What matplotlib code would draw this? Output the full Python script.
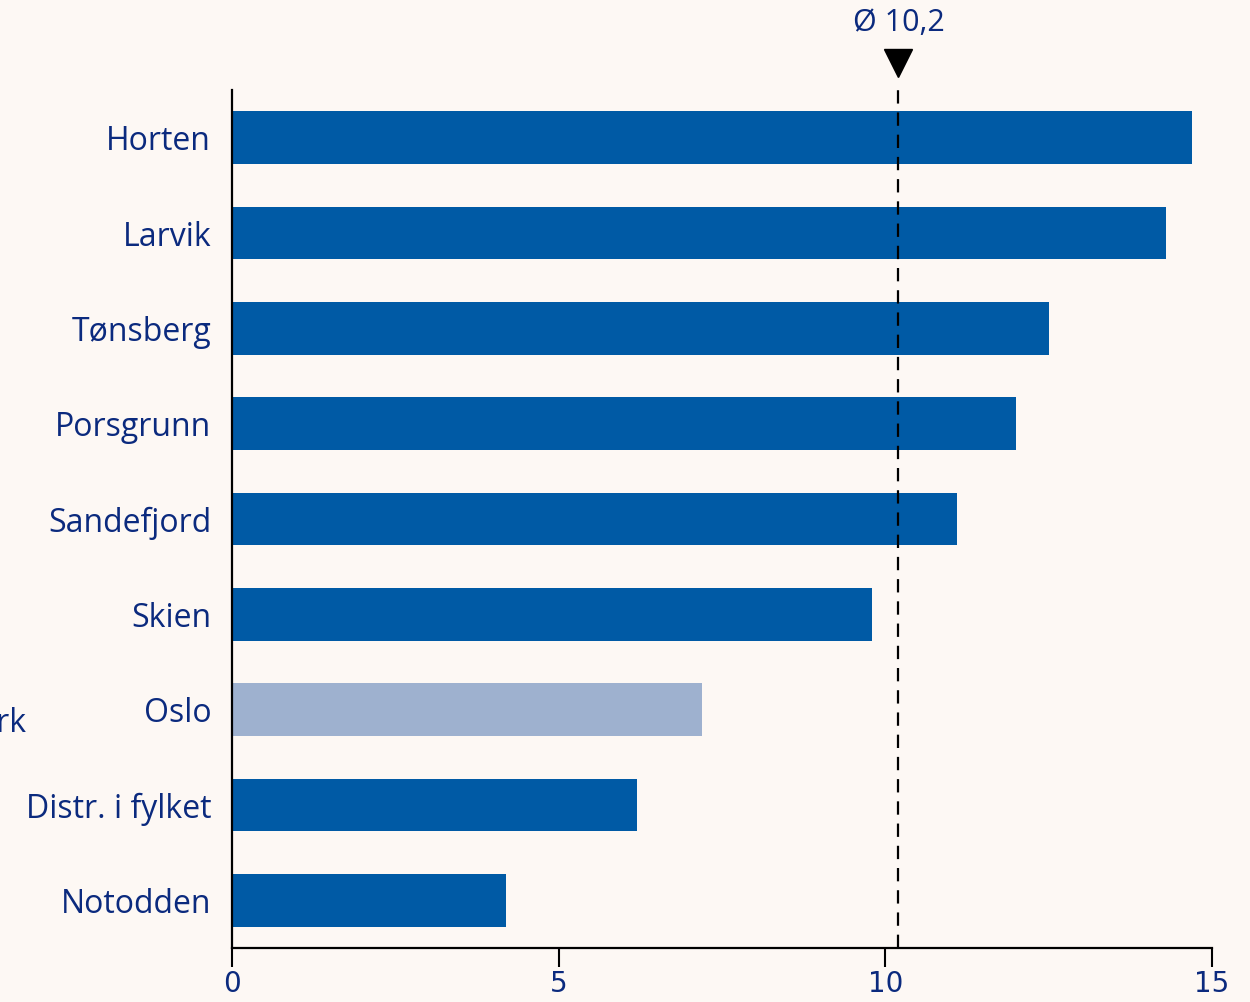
import matplotlib.pyplot as plt
import numpy as np

categories = ['Horten', 'Larvik', 'Tønsberg', 'Porsgrunn', 'Sandefjord',
              'Skien', 'Oslo', 'Distr. i fylket', 'Notodden']
values = [14.7, 14.3, 12.5, 12.0, 11.1, 9.8, 7.2, 6.2, 4.2]
highlight = 'Oslo'
mean_value = 10.2
x_ticks = [0, 5, 10, 15]

BG = '#fdf8f4'
NAVY = '#0b2a7e'
BAR = '#005aa5'
BAR_LIGHT = '#9eb1cf'
LABEL_FONT = ['Open Sans', 'DejaVu Sans']


def plot():
    fig = plt.figure(figsize=(12.5, 10.02), dpi=100, facecolor=BG)
    ax = fig.add_axes([232 / 1250, 1 - 948 / 1002, (1212 - 232) / 1250, (948 - 90) / 1002])
    ax.set_facecolor(BG)

    y = np.arange(len(categories))
    colors = [BAR_LIGHT if c == highlight else BAR for c in categories]
    ax.barh(y, values, height=0.55, color=colors)

    ax.set_ylim(len(categories) - 0.5, -0.5)
    ax.set_xlim(0, 15)
    ax.set_yticks(y)
    ax.set_yticklabels(categories, fontsize=23, color=NAVY, family=LABEL_FONT)
    ax.tick_params(axis='y', length=0, pad=15)
    ax.set_xticks(x_ticks)
    ax.set_xticklabels([str(t) for t in x_ticks], fontsize=20, color=NAVY,
                       family=['Liberation Sans Narrow', 'DejaVu Sans'])
    ax.tick_params(axis='x', length=14, width=1.5, pad=2, direction='out')

    for s in ['top', 'right']:
        ax.spines[s].set_visible(False)
    ax.spines['left'].set_linewidth(1.6)
    ax.spines['bottom'].set_linewidth(1.6)

    # average line with marker and label
    ax.plot([mean_value, mean_value], [len(categories) - 0.5, -0.5], color='black',
            linestyle=(0, (6, 4)), linewidth=1.6, clip_on=False)
    ax.plot([mean_value], [-0.78], marker='v', markersize=20, color='black', clip_on=False)
    ax.text(mean_value, -1.2, 'Ø 10,2', ha='center', va='center', fontsize=22,
            color=NAVY, family=LABEL_FONT, clip_on=False)

    # label running off the left edge, as in the original
    fig.text(27 / 1250, 1 - 723 / 1002, 'Telemark', ha='right', va='center', fontsize=23,
             color=NAVY, family=LABEL_FONT)

    fig.savefig('out.png', facecolor=BG)


if __name__ == '__main__':
    plot()
